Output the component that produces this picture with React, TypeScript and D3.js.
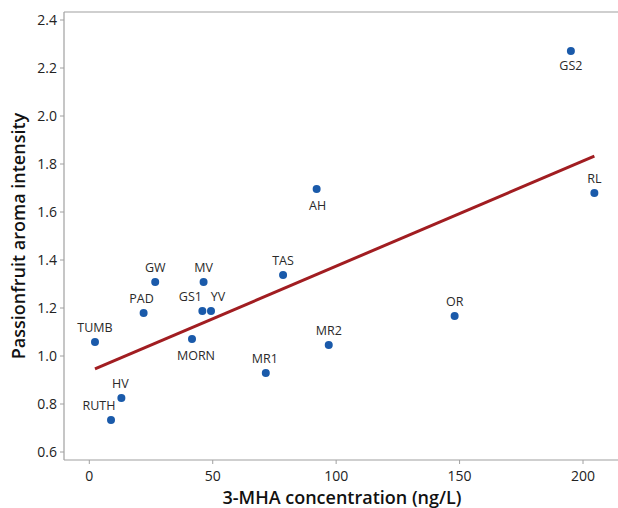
import React from "react";
import * as d3 from "d3";

const names = ["TUMB", "RUTH", "HV", "PAD", "GW", "MORN", "GS1", "YV", "MV", "MR1", "TAS", "AH", "MR2", "OR", "GS2", "RL"];
const mha = [2.3, 8.8, 13.0, 22.0, 26.7, 41.6, 45.8, 49.3, 46.3, 71.5, 78.5, 92.1, 97.0, 148.0, 195.1, 204.6];
const aroma = [1.058, 0.733, 0.825, 1.179, 1.308, 1.071, 1.188, 1.188, 1.308, 0.929, 1.338, 1.696, 1.046, 1.167, 2.271, 1.679];
const xTicks = [0, 50, 100, 150, 200];
const yTicks = [0.6, 0.8, 1.0, 1.2, 1.4, 1.6, 1.8, 2.0, 2.2, 2.4];

// label placement (offsets in px relative to the point)
const labelOffset: Record<string, [number, number]> = {
  TUMB: [0, -10],
  RUTH: [-12, -10],
  HV: [-1, -10],
  PAD: [-2, -10],
  GW: [0, -10],
  MORN: [4, 21],
  GS1: [-12, -10],
  YV: [7, -10],
  MV: [0, -10],
  MR1: [-1, -10],
  TAS: [0, -10],
  AH: [1, 21],
  MR2: [0, -10],
  OR: [0, -10],
  GS2: [0, 19],
  RL: [0, -10],
};

export default function App() {
  const W = 618, H = 508;
  const left = 64, right = 618, top = 12, bottom = 460;
  const x = d3.scaleLinear().domain([0, 200]).range([89.3, 583]);
  const y = d3.scaleLinear().domain([0.6, 2.4]).range([452, 20]);

  const mx = d3.mean(mha)!;
  const my = d3.mean(aroma)!;
  let sxy = 0, sxx = 0;
  mha.forEach((v, i) => {
    sxy += (v - mx) * (aroma[i] - my);
    sxx += (v - mx) * (v - mx);
  });
  const slope = sxy / sxx;
  const intercept = my - slope * mx;
  const [x0, x1] = d3.extent(mha) as [number, number];
  const line = d3.line<number>().x((d) => x(d)).y((d) => y(intercept + slope * d));

  const axisColor = "#a0a0a0";
  const font = "'Open Sans', 'Noto Sans', sans-serif";

  return (
    <svg width={W} height={H} style={{ position: "absolute", left: 0, top: 0, background: "#fff" }} fontFamily={font}>
      <rect x={0} y={0} width={W} height={H} fill="#fff" />
      {/* frame */}
      <line x1={left} x2={right} y1={top} y2={top} stroke={axisColor} strokeWidth={1.2} />
      <line x1={left} x2={left} y1={top} y2={bottom} stroke={axisColor} strokeWidth={1.2} />
      <line x1={left} x2={right} y1={bottom} y2={bottom} stroke={axisColor} strokeWidth={1.2} />
      {/* y ticks */}
      {yTicks.map((t) => (
        <g key={"y" + t}>
          <line x1={left - 4} x2={left} y1={y(t)} y2={y(t)} stroke={axisColor} strokeWidth={1} />
          <text x={57} y={y(t)} dy="0.36em" textAnchor="end" fontSize={14} fill="#222">
            {d3.format(".1f")(t)}
          </text>
        </g>
      ))}
      {/* x ticks */}
      {xTicks.map((t) => (
        <g key={"x" + t}>
          <line x1={x(t)} x2={x(t)} y1={bottom} y2={bottom + 4} stroke={axisColor} strokeWidth={1} />
          <text x={x(t)} y={481} textAnchor="middle" fontSize={14} fill="#222">
            {t}
          </text>
        </g>
      ))}
      {/* axis titles */}
      <text x={342} y={504} textAnchor="middle" fontSize={18} fontWeight={600} fill="#111">
        3-MHA concentration (ng/L)
      </text>
      <text
        transform={`translate(25,${236}) rotate(-90)`}
        textAnchor="middle"
        fontSize={18}
        fontWeight={600}
        fill="#111"
      >
        Passionfruit aroma intensity
      </text>
      {/* regression line */}
      <path d={line([x0, x1]) || ""} fill="none" stroke="#a11d21" strokeWidth={3} />
      {/* points */}
      {names.map((n, i) => (
        <circle key={"p" + n} cx={x(mha[i])} cy={y(aroma[i])} r={4} fill="#1a5aaa" />
      ))}
      {/* labels */}
      {names.map((n, i) => {
        const [dx, dy] = labelOffset[n];
        return (
          <text
            key={"l" + n}
            x={x(mha[i]) + dx}
            y={y(aroma[i]) + dy}
            textAnchor="middle"
            fontSize={12.5}
            fill="#2a2a2a"
          >
            {n}
          </text>
        );
      })}
    </svg>
  );
}
